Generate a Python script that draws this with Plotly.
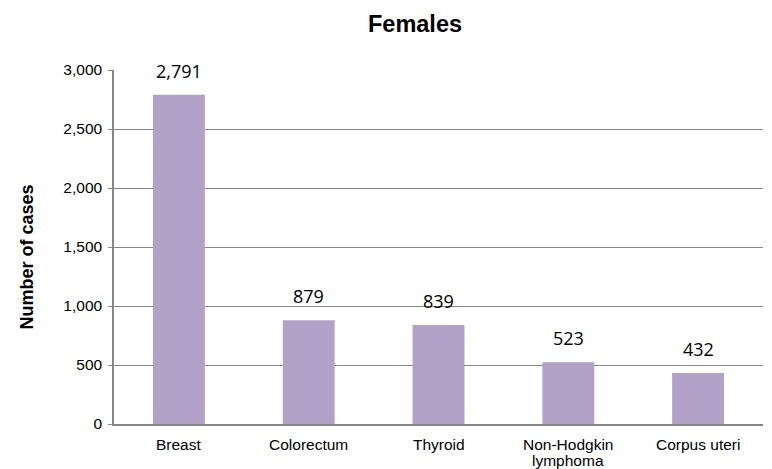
import plotly.graph_objects as go

categories = ["Breast", "Colorectum", "Thyroid", "Non-Hodgkin<br>lymphoma", "Corpus uteri"]
values = [2791, 879, 839, 523, 432]
tick_vals = [0, 500, 1000, 1500, 2000, 2500, 3000]
tick_text = ["0", "500", "1,000", "1,500", "2,000", "2,500", "3,000"]

# page body has an 8px default margin; compensate so the plot lands in place
OFF = 8
W, H = 772, 469
PL, PR, PT, PB = 114, 763, 70, 424  # plot area in page pixels

fig = go.Figure()
fig.add_trace(go.Bar(
    x=categories, y=values, width=0.4,
    marker=dict(color="#B2A2C7", line=dict(width=0)),
    hoverinfo="skip",
))

# value labels
for c, v in zip(categories, values):
    fig.add_annotation(
        x=c, y=v, text=f"{v:,}", showarrow=False,
        yanchor="middle", yshift=24,
        font=dict(family="Open Sans, Liberation Sans, sans-serif", size=18, color="#000000"),
    )

# category labels (tight line spacing)
for c in categories:
    for i, line in enumerate(c.split("<br>")):
        fig.add_annotation(
            x=c, y=0, xref="x", yref="paper", text=line, showarrow=False,
            yanchor="middle", yshift=-(20 + 16 * i),
            font=dict(family="Liberation Sans, Arial, sans-serif", size=15.5, color="#000000"),
        )

# y-axis title
fig.add_annotation(
    x=(26.5 - PL) / (PR - PL), y=(PB - 257) / (PB - PT), xref="paper", yref="paper",
    text="<b>Number of cases</b>", textangle=-90, showarrow=False,
    xanchor="center", yanchor="middle",
    font=dict(family="Liberation Sans, Arial, sans-serif", size=18, color="#000000"),
)

fig.update_layout(
    width=W, height=H,
    margin=dict(l=PL - OFF, r=W - PR + OFF, t=PT - OFF, b=H - PB + OFF, autoexpand=False),
    paper_bgcolor="white", plot_bgcolor="white",
    showlegend=False,
    title=dict(
        text="<b>Females</b>", x=(415 - OFF) / W, xanchor="center", xref="container",
        y=1 - (24 - OFF) / H, yanchor="middle", yref="container",
        font=dict(family="Liberation Sans, Arial, sans-serif", size=23.5, color="#000000"),
    ),
    font=dict(family="Liberation Sans, Arial, sans-serif", size=12, color="#000000"),
)

fig.update_yaxes(
    range=[0, 3000], tickvals=tick_vals, ticktext=tick_text,
    showgrid=True, gridcolor="#868686", gridwidth=1,
    showline=True, linecolor="#868686", linewidth=1.5,
    ticks="outside", ticklen=4, tickcolor="#868686",
    ticklabelstandoff=3,
    zeroline=False,
    tickfont=dict(size=15.5, color="#000000"),
)
fig.update_xaxes(
    showline=True, linecolor="#868686", linewidth=1.5,
    ticks="", showgrid=False, showticklabels=False,
)

fig.write_html("out.html")
